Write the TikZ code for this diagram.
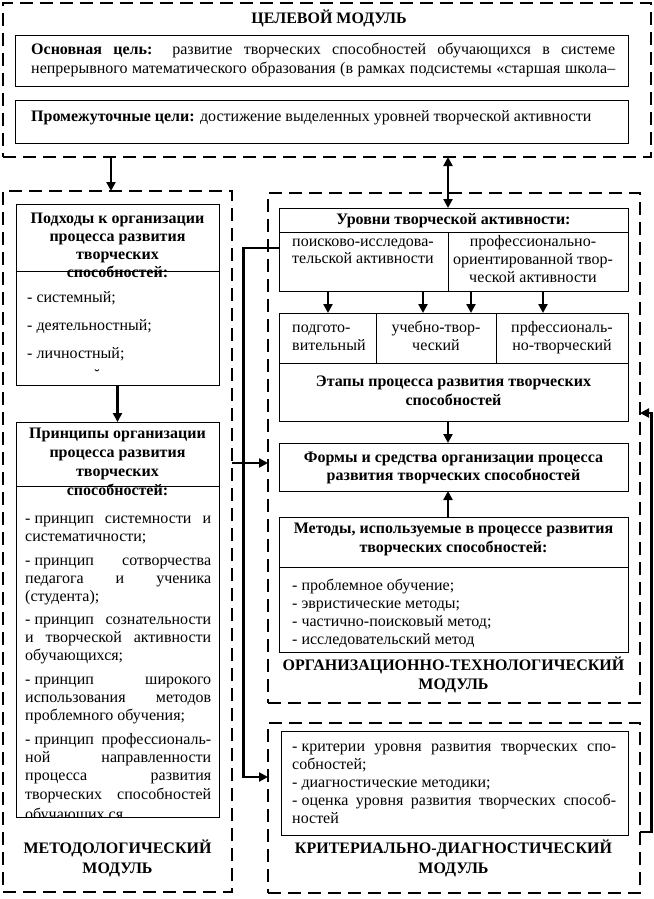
\documentclass[tikz,border=0pt]{standalone}
\usepackage{fontspec}
\setmainfont{Liberation Serif}
\usetikzlibrary{arrows.meta}
\newcommand\mkB[6][box]{\node[#1,anchor=north west,minimum width={(#5-#3)*1bp},minimum height={(#6-#4)*1bp}] (#2) at (#3,#4) {};}
\newcommand\mkL[4]{\node[ln] (#1) at (#2,#3) {#4};}
\newcommand\mkJ[5]{\node[ln] (#1) at (#2,#3) {\makebox[#4bp][s]{#5}};}
\newcommand\mkC[4]{\node[lc] (#1) at (#2,#3) {#4};}
\newcommand\hdv[2]{\draw[dv] ([yshift=-#2bp]#1.north west) -- ([yshift=-#2bp]#1.north east);}
\newcommand\dsh{-\hspace{4bp}}
\begin{document}
\begin{tikzpicture}[x=1bp,y=-1bp,
  box/.style={draw,line width=0.9bp,outer sep=0pt,inner sep=0pt},
  mod/.style={draw,line width=2.7bp,dash pattern=on 13bp off 7bp,outer sep=0pt,inner sep=0pt},
  ln/.style={anchor=west,inner sep=0pt,text height=11bp,text depth=4bp,font=\fontsize{16bp}{18bp}\selectfont},
  lc/.style={ln,anchor=center},
  arr/.style={line width=2.7bp,-{Triangle[length=9bp,width=9bp]}},
  darr/.style={line width=2.7bp,{Triangle[length=9bp,width=9bp]}-{Triangle[length=9bp,width=9bp]}},
  dv/.style={line width=0.9bp}]
\useasboundingbox (0,0) rectangle (654,899);
% ---------- top module
\mkB[mod]{mTop}{3}{3}{651}{157}
\mkC{tTitle}{329}{20}{\textbf{ЦЕЛЕВОЙ МОДУЛЬ}}
\mkB{gA}{15}{35}{628}{86}
\mkJ{gA1}{31}{51}{584}{\textbf{Основная цель:} развитие творческих способностей обучающихся в системе}
\mkJ{gA2}{31}{70}{584}{непрерывного математического образования (в рамках подсистемы «старшая школа–}
\mkB{gB}{15}{100}{628}{143}
\mkL{gB1}{31}{118}{\textbf{Промежуточные цели:} достижение выделенных уровней творческой активности}
% ---------- left module
\mkB[mod]{mLeft}{3}{191}{232}{892}
\mkB{app}{16}{204}{219}{385}
\hdv{app}{67}
\mkC{ap1}{117.5}{220}{\textbf{Подходы к организации}}
\mkC{ap2}{117.5}{238}{\textbf{процесса развития}}
\mkC{ap3}{117.5}{256}{\textbf{творческих}}
\mkC{ap4}{117.5}{274}{\textbf{способностей:}}
\mkL{ap5}{27}{299}{- системный;}
\mkL{ap6}{27}{327}{- деятельностный;}
\mkL{ap7}{27}{355}{- личностный;}
\mkC{ap8}{97}{377}{˘}
\mkB{pri}{16}{422}{219}{817}
\hdv{pri}{64}
\mkC{pr1}{117.5}{435}{\textbf{Принципы организации}}
\mkC{pr2}{117.5}{454}{\textbf{процесса развития}}
\mkC{pr3}{117.5}{473}{\textbf{творческих}}
\mkC{pr4}{117.5}{492}{\textbf{способностей:}}
\mkJ{q1}{25}{520}{186}{\dsh принцип системности и}
\mkL{q2}{25}{538}{систематичности;}
\mkJ{q3}{25}{562}{186}{\dsh принцип сотворчества}
\mkJ{q4}{25}{580}{186}{педагога и ученика}
\mkL{q5}{25}{598}{(студента);}
\mkJ{q6}{25}{621}{186}{\dsh принцип сознательности}
\mkJ{q7}{25}{639}{186}{и творческой активности}
\mkL{q8}{25}{657}{обучающихся;}
\mkJ{q9}{25}{681}{186}{\dsh принцип широкого}
\mkJ{q10}{25}{699}{186}{использования методов}
\mkL{q11}{25}{717}{проблемного обучения;}
\mkJ{q12}{25}{741}{186}{\dsh принцип профессиональ-}
\mkJ{q13}{25}{759}{186}{ной направленности}
\mkJ{q14}{25}{777}{186}{процесса развития}
\mkJ{q15}{25}{796}{186}{творческих способностей}
\begin{scope}
\clip (17,803) rectangle (218,816);
\mkL{q16}{25}{816}{обучающих ся}
\end{scope}
\mkC{mL1}{117.5}{850}{\textbf{МЕТОДОЛОГИЧЕСКИЙ}}
\mkC{mL2}{117.5}{870}{\textbf{МОДУЛЬ}}
\draw[arr] (app.south) -- (pri.north);
% ---------- organisational module
\mkB[mod]{mOrg}{268}{193}{640}{703}
\mkB{lev}{279}{208}{628}{291}
\hdv{lev}{24}
\draw[dv] ([xshift=169bp,yshift=-24bp]lev.north west) -- ([xshift=169bp]lev.south west);
\mkC{lv1}{453.5}{221}{\textbf{Уровни творческой активности:}}
\mkL{lv2}{292}{243}{поисково-исследова-}
\mkL{lv3}{292}{260}{тельской активности}
\mkC{lv4}{533}{243}{профессионально-}
\mkC{lv5}{533}{261}{ориентированной твор-}
\mkC{lv6}{533}{279}{ческой активности}
\mkB{stg}{279}{313}{628}{421}
\hdv{stg}{50}
\draw[dv] ([xshift=97bp]stg.north west) -- ([xshift=97bp,yshift=-50bp]stg.north west);
\draw[dv] ([xshift=217bp]stg.north west) -- ([xshift=217bp,yshift=-50bp]stg.north west);
\mkL{st1}{292}{329}{подгото-}
\mkL{st2}{292}{347}{вительный}
\mkC{st3}{436}{329}{учебно-твор-}
\mkC{st4}{436}{347}{ческий}
\mkC{st5}{562}{329}{прфессиональ-}
\mkC{st6}{562}{347}{но-творческий}
\mkC{st7}{453.5}{383}{\textbf{Этапы процесса развития творческих}}
\mkC{st8}{453.5}{402}{\textbf{способностей}}
\foreach \dx in {49,144,192,264}
  \draw[arr] ([xshift=\dx bp]lev.south west) -- ([xshift=\dx bp]stg.north west);
\mkB{frm}{279}{443}{628}{491}
\mkC{fr1}{453.5}{459}{\textbf{Формы и средства организации процесса}}
\mkC{fr2}{453.5}{477}{\textbf{развития творческих способностей}}
\mkB{met}{279}{517}{628}{652}
\hdv{met}{50}
\mkC{me1}{453.5}{530}{\textbf{Методы, используемые в процессе развития}}
\mkC{me2}{453.5}{549}{\textbf{творческих способностей:}}
\mkL{me3}{292}{587}{- проблемное обучение;}
\mkL{me4}{292}{605}{- эвристические методы;}
\mkL{me5}{292}{623}{- частично-поисковый метод;}
\mkL{me6}{292}{641}{- исследовательский метод}
\mkC{mO1}{453.5}{667}{\textbf{ОРГАНИЗАЦИОННО-ТЕХНОЛОГИЧЕСКИЙ}}
\mkC{mO2}{453.5}{686}{\textbf{МОДУЛЬ}}
\draw[arr] ([xshift=169bp]stg.south west) -- ([xshift=169bp]frm.north west);
\draw[arr] ([xshift=169bp]met.north west) -- ([xshift=169bp]frm.south west);
% ---------- criterial module
\mkB[mod]{mKrit}{268}{723}{640}{893}
\mkB{crit}{281}{731}{628}{835}
\mkJ{cr1}{292}{748}{324}{\dsh критерии уровня развития творческих спо-}
\mkL{cr2}{292}{766}{собностей;}
\mkL{cr3}{292}{784}{- диагностические методики;}
\mkJ{cr4}{292}{802}{324}{\dsh оценка уровня развития творческих способ-}
\mkL{cr5}{292}{820}{ностей}
\mkC{mK1}{453.5}{850}{\textbf{КРИТЕРИАЛЬНО-ДИАГНОСТИЧЕСКИЙ}}
\mkC{mK2}{453.5}{870}{\textbf{МОДУЛЬ}}
% ---------- connectors
\coordinate (tA) at (111,0);
\coordinate (tB) at (448,0);
\draw[arr] (tA |- mTop.south) -- (tA |- mLeft.north);
\draw[darr] (tB |- mTop.south) -- (tB |- lev.north);
\coordinate (jA) at (243.5,248);
\coordinate (jB) at (243.5,777);
\coordinate (jM) at (232,463);
\draw[arr] (jA -| lev.west) -- (jA) -- (jB) -- (jB -| mKrit.west);
\draw[arr] (jM -| mLeft.east) -- (jM -| mOrg.west);
\coordinate (rA) at (651.5,832);
\coordinate (rB) at (651.5,413);
\draw[arr] (rA -| mKrit.east) -- (rA) -- (rB) -- (rB -| mOrg.east);
\end{tikzpicture}
\end{document}
